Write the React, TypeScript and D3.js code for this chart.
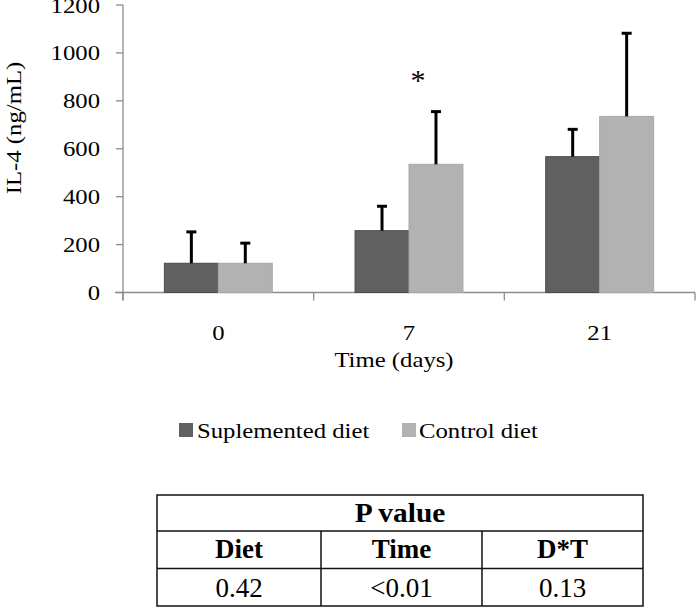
import React from "react";
import * as d3 from "d3";

const categories = ["0", "7", "21"];
const seriesNames = ["Suplemented diet", "Control diet"];
const suplemented = [122, 258, 567];
const suplementedErr = [253, 360, 681];
const control = [122, 535, 735];
const controlErr = [206, 755, 1082];
const yTicks = [0, 200, 400, 600, 800, 1000, 1200];
const tableHeader = "P value";
const tableCols = ["Diet", "Time", "D*T"];
const tableVals = ["0.42", "<0.01", "0.13"];
const colors = ["#606060", "#b2b2b2"];
const strokes = ["#4a4a4a", "#a8a8a8"];

const FONT = "Liberation Serif, Times New Roman, DejaVu Serif, serif";
const SX = 1.15;
const FS = 21.5;

function T({ x, y, children, anchor = "middle", size = FS, sx = SX, rotate = 0, weight = "normal" }: any) {
  return (
    <text
      transform={`translate(${x},${y}) rotate(${rotate}) scale(${sx},1)`}
      textAnchor={anchor}
      style={{ fontFamily: FONT, fontSize: size, fontWeight: weight }}
      fill="#000"
    >
      {children}
    </text>
  );
}

export default function App() {
  const W = 696, H = 607;
  const left = 123, right = 695, top = 5, bottom = 292.5;
  const y = d3.scaleLinear().domain([0, 1200]).range([bottom, top]);
  const x = d3.scaleBand<string>().domain(categories).range([left, right]).padding(0);
  const groupW = x.bandwidth() * 0.566;
  const xi = d3.scaleBand<number>().domain([0, 1]).range([0, groupW]).padding(0);
  const series = [
    { vals: suplemented, errs: suplementedErr },
    { vals: control, errs: controlErr },
  ];
  const capW = 10;
  const boundaries = [...categories.map((c) => x(c)!), right];

  const tL = 157, tR = 643, tTop = 495, r1 = 531, r2 = 568.5, tBot = 606;
  const colX = [tL, 321, 482, tR];

  return (
    <svg width={W} height={H} style={{ position: "absolute", left: 0, top: 0, background: "#fff" }}>
      <rect width={W} height={H} fill="#fff" />
      <line x1={left} x2={left} y1={top} y2={bottom + 8} stroke="#8c8c8c" strokeWidth={1.3} />
      <line x1={left - 8} x2={right} y1={bottom} y2={bottom} stroke="#8c8c8c" strokeWidth={1.3} />
      {yTicks.map((t) => (
        <g key={t}>
          <line x1={left - 7} x2={left} y1={y(t)} y2={y(t)} stroke="#8c8c8c" strokeWidth={1.3} />
          <T x={left - 23} y={y(t) + 7.5} anchor="end">{t}</T>
        </g>
      ))}
      {boundaries.map((b, i) => (
        <line key={i} x1={b} x2={b} y1={bottom} y2={bottom + 8} stroke="#8c8c8c" strokeWidth={1.3} />
      ))}
      {categories.map((c, ci) => {
        const gx = x(c)! + (x.bandwidth() - groupW) / 2;
        return (
          <g key={c}>
            {series.map((s, si) => {
              const bx = gx + xi(si)!;
              const bw = xi.bandwidth();
              const cx = bx + bw / 2;
              return (
                <g key={si}>
                  <rect x={bx} y={y(s.vals[ci])} width={bw} height={bottom - y(s.vals[ci])} fill={colors[si]} stroke={strokes[si]} strokeWidth={1} />
                  <line x1={cx} x2={cx} y1={y(s.vals[ci])} y2={y(s.errs[ci])} stroke="#000" strokeWidth={3} />
                  <line x1={cx - capW / 2} x2={cx + capW / 2} y1={y(s.errs[ci])} y2={y(s.errs[ci])} stroke="#000" strokeWidth={3} />
                </g>
              );
            })}
            <T x={x(c)! + x.bandwidth() / 2} y={bottom + 47}>{c}</T>
          </g>
        );
      })}
      <T x={x("7")! + x.bandwidth() / 2 + 9} y={90} size={30} sx={1}>*</T>
      <T x={394} y={367}>Time (days)</T>
      <T x={21} y={128} rotate={-90} sx={1.15}>IL-4 (ng/mL)</T>
      <rect x={179} y={423} width={14} height={14} fill={colors[0]} />
      <T x={197} y={438} anchor="start">{seriesNames[0]}</T>
      <rect x={402} y={423} width={14} height={14} fill={colors[1]} />
      <T x={419} y={438} anchor="start">{seriesNames[1]}</T>
      <rect x={tL} y={tTop} width={tR - tL} height={tBot - tTop} fill="none" stroke="#111" strokeWidth={1.5} />
      <line x1={tL} x2={tR} y1={r1} y2={r1} stroke="#111" strokeWidth={1.5} />
      <line x1={tL} x2={tR} y1={r2} y2={r2} stroke="#111" strokeWidth={1.5} />
      {[1, 2].map((i) => (
        <line key={i} x1={colX[i]} x2={colX[i]} y1={r1} y2={tBot} stroke="#111" strokeWidth={1.5} />
      ))}
      <T x={(tL + tR) / 2} y={522} size={28} sx={1.05} weight="bold">{tableHeader}</T>
      {tableCols.map((c, i) => (
        <T key={c} x={(colX[i] + colX[i + 1]) / 2} y={558} size={27} sx={1} weight="bold">{c}</T>
      ))}
      {tableVals.map((v, i) => (
        <T key={i} x={(colX[i] + colX[i + 1]) / 2} y={597} size={27} sx={1}>{v}</T>
      ))}
    </svg>
  );
}
